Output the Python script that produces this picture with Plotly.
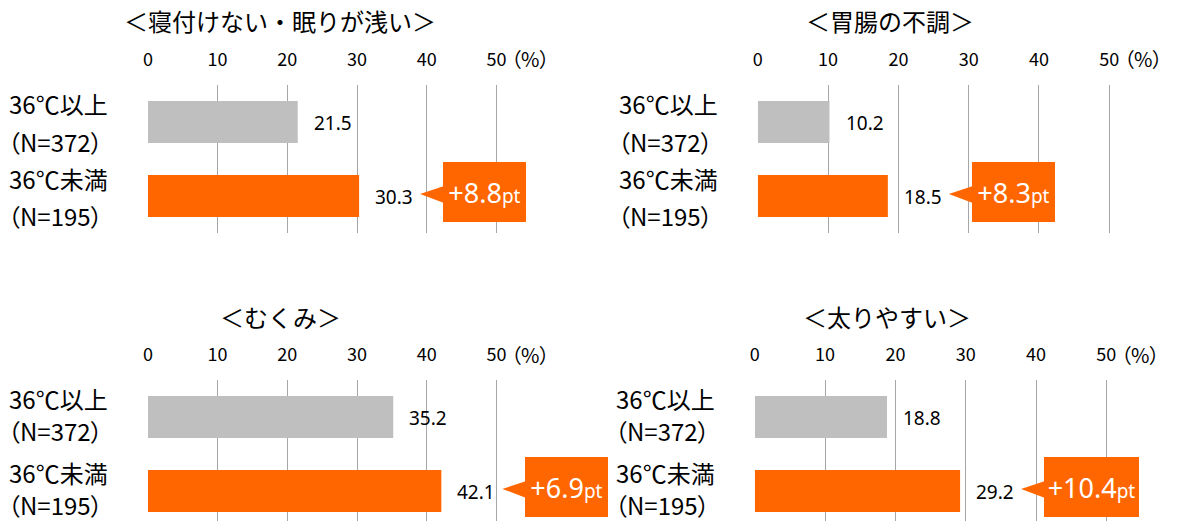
import plotly.graph_objects as go

# ---------------- data ----------------
titles = ["＜寝付けない・眠りが浅い＞", "＜胃腸の不調＞", "＜むくみ＞", "＜太りやすい＞"]
group_labels = ["36℃以上", "36℃未満"]
n_labels = ["（N=372）", "（N=195）"]
above36 = [21.5, 10.2, 35.2, 18.8]   # 36℃以上
below36 = [30.3, 18.5, 42.1, 29.2]   # 36℃未満
tick_vals = [0, 10, 20, 30, 40, 50]
tick_text = ["0", "10", "20", "30", "40", "50"]
unit_label = "（%）"

# ---------------- style / layout ----------------
W, H = 1179, 521
GRAY = "#BFBFBF"
ORANGE = "#FF6600"
GRID = "#A6A6A6"
FONT = "Noto Sans CJK JP"
NUMFONT = "Noto Sans"
PALT = "<span style=\"font-feature-settings:'palt'\">{}</span>"

PPU_Y = 74.0
panels_geom = [
    dict(x0=143.5, ppu=7.0, top=85, bottom=233, mshift=18, nshift=-19),
    dict(x0=756.0, ppu=7.06, top=85, bottom=233, mshift=18, nshift=-19),
    dict(x0=143.5, ppu=7.0, top=380, bottom=521, mshift=19, nshift=-13),
    dict(x0=753.0, ppu=7.06, top=380, bottom=521, mshift=19, nshift=-13),
]

fig = go.Figure()
layout = dict(
    width=W, height=H,
    margin=dict(l=0, r=0, t=0, b=0),
    paper_bgcolor="white", plot_bgcolor="white",
    showlegend=False,
    font=dict(family=FONT, color="#000000"),
)
annotations = []
shapes = []

for i in range(4):
    g = panels_geom[i]
    k = "" if i == 0 else str(i + 1)
    xa, ya = "x" + k, "y" + k
    xmax = (W - 2 - g["x0"]) / g["ppu"] if i % 2 == 1 else 66
    x_dom = [g["x0"] / W, (g["x0"] + xmax * g["ppu"]) / W]
    y_dom = [1 - g["bottom"] / H, 1 - g["top"] / H]
    y_lo = -0.5 + (g["bottom"] - g["top"]) / PPU_Y

    vals = [above36[i], below36[i]]
    fig.add_trace(go.Bar(
        x=vals, y=[0, 1], orientation="h", width=0.57,
        marker=dict(color=[GRAY, ORANGE], line=dict(width=0)),
        xaxis=xa, yaxis=ya, hoverinfo="skip",
    ))

    layout["xaxis" + k] = dict(
        domain=x_dom, range=[0, xmax], anchor=ya, side="top",
        tickvals=tick_vals, ticktext=tick_text, ticks="",
        showgrid=True, gridcolor=GRID, gridwidth=1, zeroline=False,
        showline=False, tickfont=dict(family=FONT, size=18, color="#000000"),
        ticklabelstandoff=14, fixedrange=True,
    )
    layout["yaxis" + k] = dict(
        domain=y_dom, range=[y_lo, -0.5], anchor=xa,
        showticklabels=False, showgrid=False, zeroline=False, showline=False,
        fixedrange=True,
    )

    # panel title
    annotations.append(dict(
        text=titles[i], xref=xa, yref=ya + " domain", x=0, y=1,
        xanchor="center", yanchor="middle", xshift=132.5, yshift=64,
        showarrow=False, font=dict(family=FONT, size=24, color="#000000"),
    ))
    # unit label next to 50
    annotations.append(dict(
        text=PALT.format(unit_label), xref=xa, yref=ya + " domain",
        x=tick_vals[-1], y=1,
        xanchor="left", yanchor="middle", xshift=15, yshift=26,
        borderpad=0, borderwidth=0,
        showarrow=False, font=dict(family=FONT, size=20, color="#000000"),
    ))
    # category labels
    for j in range(2):
        annotations.append(dict(
            text=group_labels[j], xref=xa, yref=ya, x=0, y=j,
            xanchor="left", yanchor="middle", xshift=-139, yshift=g["mshift"],
            borderpad=0, borderwidth=0,
            showarrow=False, font=dict(family=FONT, size=24, color="#000000"),
        ))
        annotations.append(dict(
            text=PALT.format(n_labels[j]), xref=xa, yref=ya, x=0, y=j,
            xanchor="left", yanchor="middle", xshift=-140, yshift=g["nshift"],
            borderpad=0, borderwidth=0,
            showarrow=False, font=dict(family=FONT, size=24, color="#000000"),
        ))
        # value labels
        annotations.append(dict(
            text=f"{vals[j]:.1f}", xref=xa, yref=ya, x=vals[j], y=j,
            xanchor="left", yanchor="middle", xshift=14, yshift=-1,
            showarrow=False, font=dict(family=NUMFONT, size=19, color="#000000"),
        ))

    # callout with difference
    diff = round(below36[i] - above36[i], 1)
    dtxt = f"+{diff:.1f}"
    box_w = 83 + 12 * (len(dtxt) - 4)
    annotations.append(dict(
        text=f"{dtxt}<span style='font-size:19px'>pt</span>",
        xref=xa, yref=ya, x=below36[i], y=1,
        xanchor="left", yanchor="middle", xshift=84, yshift=4.5,
        width=box_w, height=60, bgcolor=ORANGE, borderpad=0, borderwidth=0,
        align="center", valign="middle",
        showarrow=False, font=dict(family=NUMFONT, size=27, color="#FFFFFF"),
    ))
    shapes.append(dict(
        type="path", xref=xa, yref=ya, xsizemode="pixel", ysizemode="pixel",
        xanchor=below36[i], yanchor=1,
        path="M 61,2 L 85,10 L 85,-7 Z",
        fillcolor=ORANGE, line=dict(width=0), layer="above",
    ))

layout["annotations"] = annotations
layout["shapes"] = shapes
fig.update_layout(**layout)
fig.write_html("out.html")
